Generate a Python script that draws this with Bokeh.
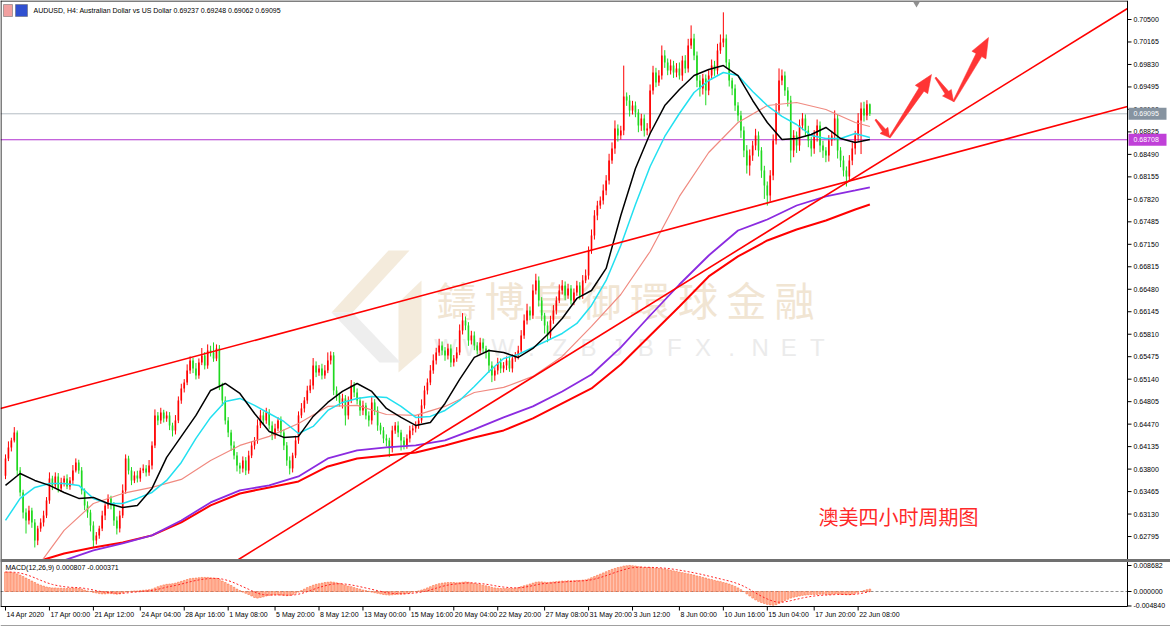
import numpy as np
from bokeh.plotting import figure
from bokeh.models import Range1d
from bokeh.embed import file_html
from bokeh.resources import INLINE
from bokeh.core.properties import value

# ---------------- data (prices in points = 1e-5) ----------------
first_open_pts = 63700
closes_pts = [
    63959, 64123, 64227, 64346, 63780, 63452, 63154, 63035, 63184, 63005,
    62737, 62916, 63005, 63110, 63333, 63661, 63557, 63691, 63512, 63601,
    63661, 63542, 63631, 63780, 63899, 63780, 63482, 63259, 63154, 62961,
    62737, 62812, 62916, 63110, 63259, 63363, 63259, 63035, 62916, 63110,
    63482, 63959, 63780, 63631, 63706, 63661, 63780, 63810, 63750, 63855,
    64153, 64600, 64525, 64644, 64555, 64600, 64451, 64376, 64525, 64823,
    65002, 65091, 65270, 65419, 65300, 65196, 65389, 65494, 65345, 65568,
    65538, 65449, 65598, 65047, 64823, 64525, 64346, 64153, 64004, 63855,
    63810, 63929, 63780, 64004, 64153, 64227, 64451, 64600, 64525, 64644,
    64451, 64302, 64406, 64525, 64346, 64153, 63929, 63810, 64004, 64227,
    64600, 64704, 64823, 64972, 65047, 65345, 65240, 65300, 65196, 65270,
    65419, 65494, 64972, 64898, 64793, 64853, 64600, 64823, 65047, 64942,
    64823, 64674, 64749, 64600, 64525, 64793, 64674, 64451, 64376, 64257,
    64227, 64108, 64376, 64451, 64346, 64227, 64153, 64257, 64376, 64406,
    64451, 64525, 64749, 64972, 65091, 65270, 65419, 65538, 65642, 65568,
    65494, 65598, 65389, 65449, 65538, 65866, 66015, 65940, 65717, 65791,
    65642, 65568, 65687, 65598, 65538, 65345, 65196, 65270, 65389, 65300,
    65345, 65419, 65300, 65449, 65494, 65568, 65791, 66015, 66164, 66089,
    66462, 66611, 66313, 66089, 65940, 65791, 66015, 66164, 66313, 66462,
    66536, 66387, 66492, 66313, 66432, 66536, 66387, 66611, 66685, 67058,
    67281, 67579, 67728, 67803, 67952, 68101, 68399, 68578, 68876, 68771,
    68846, 69353, 69293, 69144, 69218, 69114, 68920, 69025, 68846, 68876,
    69442, 69710, 69561, 69665, 69963, 69859, 69740, 69814, 69710, 69770,
    69665, 69889, 69770, 70112, 70217, 69963, 69591, 69472, 69621, 69442,
    69665, 69814, 69740, 70038, 70157, 70217, 69859, 69591, 69472, 69218,
    69069, 68846, 68548, 68324, 68473, 68622, 68771, 68548, 68250, 68026,
    67877, 68175, 68697, 69144, 69591, 69665, 69442, 69293, 68548, 68771,
    68622, 68920, 69025, 68846, 68697, 68578, 68771, 68920, 68622, 68548,
    68473, 68697, 68771, 69025, 68548, 68399, 68250, 68161, 68399, 68578,
    68771, 68995, 69174, 69069, 69237, 69095,
]
upper_wick_pts = [
    60, 90, 40, 80, 30, 50, 40, 60, 70, 40,
    50, 40, 60, 70, 50, 90, 40, 60, 50, 70,
    40, 60, 50, 80, 60, 40, 50, 30, 60, 40,
    60, 50, 40, 70, 50, 60, 40, 50, 60, 70,
    90, 60, 40, 50, 60, 70, 40, 60, 50, 80,
    60, 90, 50, 70, 40, 60, 50, 40, 80, 60,
    70, 50, 90, 60, 40, 80, 60, 110, 50, 90,
    70, 150, 60, 50, 40, 60, 50, 40, 60, 50,
    40, 60, 50, 70, 60, 50, 90, 80, 60, 70,
    50, 60, 70, 50, 60, 40, 50, 60, 40, 70,
    60, 80, 50, 70, 90, 110, 60, 50, 70, 80,
    120, 60, 50, 60, 40, 70, 50, 60, 80, 50,
    60, 50, 70, 40, 60, 90, 50, 60, 40, 50,
    60, 40, 70, 50, 60, 40, 50, 60, 70, 50,
    60, 80, 90, 70, 60, 80, 90, 70, 100, 60,
    50, 70, 60, 50, 80, 90, 110, 60, 50, 70,
    60, 50, 70, 60, 40, 50, 60, 50, 70, 60,
    50, 60, 70, 60, 50, 70, 80, 90, 100, 60,
    90, 100, 60, 50, 40, 60, 70, 80, 60, 90,
    80, 60, 70, 50, 60, 70, 50, 80, 90, 60,
    90, 80, 70, 60, 90, 80, 100, 90, 120, 60,
    70, 460, 60, 80, 70, 60, 50, 70, 60, 80,
    90, 100, 70, 80, 150, 80, 60, 90, 70, 80,
    90, 70, 80, 100, 195, 70, 60, 80, 70, 60,
    80, 90, 70, 100, 120, 390, 60, 50, 40, 60,
    50, 70, 60, 80, 90, 70, 100, 60, 50, 70,
    60, 80, 90, 110, 180, 90, 60, 50, 70, 80,
    60, 90, 80, 60, 70, 50, 80, 90, 60, 70,
    50, 80, 70, 120, 60, 50, 70, 60, 80, 90,
    70, 110, 90, 100, 60, 11,
]
lower_wick_pts = [
    50, 40, 60, 30, 70, 60, 90, 195, 60, 80,
    105, 70, 50, 60, 40, 50, 70, 40, 60, 50,
    60, 40, 50, 60, 30, 50, 60, 70, 80, 90,
    105, 60, 50, 40, 70, 50, 60, 80, 90, 60,
    40, 50, 60, 70, 40, 60, 50, 40, 60, 50,
    60, 40, 70, 50, 60, 50, 70, 90, 60, 40,
    50, 60, 40, 50, 70, 60, 50, 40, 60, 50,
    60, 50, 40, 70, 80, 60, 70, 80, 60, 90,
    80, 60, 70, 50, 40, 60, 50, 40, 60, 50,
    60, 70, 50, 40, 60, 70, 80, 90, 60, 40,
    50, 40, 60, 50, 40, 60, 70, 50, 60, 50,
    40, 60, 70, 80, 60, 90, 150, 60, 40, 70,
    60, 80, 70, 60, 90, 60, 70, 80, 60, 70,
    90, 130, 60, 50, 70, 150, 60, 50, 60, 70,
    60, 50, 40, 50, 60, 40, 50, 60, 50, 70,
    80, 60, 70, 60, 50, 40, 60, 70, 80, 60,
    70, 60, 50, 60, 90, 110, 100, 80, 60, 70,
    60, 70, 50, 60, 50, 60, 40, 50, 60, 70,
    50, 60, 90, 80, 120, 100, 60, 50, 60, 40,
    60, 70, 50, 60, 70, 50, 60, 50, 40, 60,
    50, 60, 70, 50, 60, 70, 60, 50, 80, 90,
    60, 70, 80, 90, 60, 70, 100, 80, 90, 70,
    80, 60, 70, 50, 60, 80, 70, 60, 80, 70,
    60, 80, 70, 60, 50, 70, 100, 120, 90, 220,
    70, 60, 80, 60, 50, 70, 80, 90, 100, 80,
    90, 110, 100, 120, 150, 80, 70, 90, 110, 200,
    150, 90, 70, 60, 50, 70, 80, 90, 180, 100,
    110, 80, 70, 90, 100, 120, 80, 90, 100, 110,
    100, 90, 80, 70, 120, 100, 90, 150, 80, 70,
    90, 80, 500, 90, 70, 33,
]

# moving averages (bar index, points)
ma_fast_idx = list(range(0, 300, 5))
ma_black_pts = [63557, 63735, 63631, 63557, 63452, 63363, 63378, 63288, 63229, 63259,
                63512, 63974, 64287, 64600, 64972, 65076, 64927, 64629, 64361, 64272,
                64287, 64585, 64793, 64957, 65076, 64957, 64704, 64570, 64451, 64495,
                64778, 65136, 65464, 65568, 65538, 65464, 65598, 65806, 66045, 66343,
                66462, 66790, 67579, 68280, 68801, 69218, 69457, 69665, 69755, 69814,
                69665, 69293, 68965, 68712, 68727, 68786, 68891, 68727, 68667, 68712]
ma_cyan_pts = [63035, 63363, 63527, 63586, 63586, 63557, 63363, 63288, 63288, 63363,
               63452, 63631, 63899, 64257, 64570, 64808, 64853, 64749, 64629, 64510,
               64331, 64436, 64674, 64793, 64853, 64883, 64868, 64734, 64570, 64585,
               64674, 64823, 65032, 65255, 65449, 65508, 65613, 65717, 65821, 65970,
               66239, 66611, 67133, 67743, 68310, 68757, 69099, 69412, 69591, 69710,
               69665, 69427, 69218, 69055, 68935, 68771, 68727, 68727, 68801, 68742]
ma_salmon_idx = [13, 20, 30, 40, 50, 60, 70, 80, 90, 100, 110, 120, 130, 140, 150,
                 160, 170, 180, 190, 200, 210, 220, 230, 240, 250, 260, 270, 280, 290, 295]
ma_salmon_pts = [62469, 62886, 63288, 63437, 63527, 63646, 63929, 64153, 64287, 64480,
                 64734, 64749, 64614, 64600, 64734, 64942, 65017, 65181, 65479, 65926,
                 66402, 67043, 67863, 68518, 68965, 69218, 69263, 69159, 68965, 68906]
ma_purple_idx = [20, 30, 40, 50, 60, 70, 80, 90, 100, 110, 120, 130, 140, 150,
                 160, 170, 180, 190, 200, 210, 220, 230, 240, 250, 260, 270, 280, 290, 295]
ma_purple_pts = [62439, 62588, 62692, 62812, 63035, 63303, 63482, 63557, 63691, 63959,
                 64078, 64123, 64153, 64227, 64391, 64570, 64734, 64957, 65210, 65613,
                 66089, 66551, 66983, 67356, 67520, 67728, 67863, 67952, 67997]
ma_red_idx = [12, 20, 30, 40, 50, 60, 70, 80, 90, 100, 110, 120, 130, 140, 150,
              160, 170, 180, 190, 200, 210, 220, 230, 240, 250, 260, 270, 280, 290, 295]
ma_red_pts = [62439, 62543, 62633, 62707, 62812, 63005, 63259, 63437, 63527, 63616,
              63840, 63959, 64004, 64048, 64153, 64272, 64376, 64555, 64778, 65002,
              65359, 65791, 66224, 66671, 66969, 67207, 67371, 67505, 67669, 67743]

# MACD main line, per bar (1e-6)
macd_main_u = [
    6500, 6500, 6400, 6200, 5900, 5500,
    5000, 4500, 4000, 3500, 3000, 2500, 2100, 1800, 1500,
    1300, 1200, 1200, 1100, 1100, 1000, 1000, 1100, 1200, 1200, 1000, 800, 500, 200, 0, -300,
    -500, -700, -800, -800, -700, -700, -800, -900, -800, -500, -200, 0,
    100, 200, 200, 300, 400, 500, 600, 800, 1200, 1600,
    1900, 2200, 2400, 2500, 2600, 2800, 3100, 3400, 3700, 4000, 4300, 4400, 4500, 4600, 4700, 4700, 4700, 4600,
    4500, 4400, 4000, 3500, 3000, 2500, 2000, 1400, 800, 300, -200, -600,
    -1000, -1500, -2000, -2200, -2000, -1800, -1500, -1300, -1200, -1100, -1100, -1200, -1300, -1400, -1300, -1000, -600, -200,
    300, 800, 1300, 1700, 2100, 2400, 2600, 2800, 3000, 3100, 3200, 3100,
    2900, 2700, 2400, 2100, 1800, 1600, 1300, 1000, 800, 500, 300, 100,
    -200, -400, -600, -800, -1000, -1100, -1200, -1100, -1000, -900, -900, -800,
    -600, -400, -200, 0, 200, 500, 800, 1200, 1600,
    2000, 2300, 2600, 2800, 2900, 3000, 3000, 3000, 2900, 3000, 3100, 3200, 3100, 2900, 2700,
    2500, 2300, 2100, 1900, 1700, 1400, 1200, 1100, 1000, 1000, 1000, 1000, 1000, 1100,
    1300, 1600, 1900, 2200, 2500, 2800, 3100, 3200, 3200, 3100, 3000, 3100, 3200, 3300, 3400, 3500, 3500, 3600, 3600, 3600, 3700, 3700, 3800, 3900,
    4200, 4600, 5000, 5400, 5800, 6200, 6600, 7000, 7400, 7700, 8000, 8200,
    8500, 8600, 8700, 8600, 8500, 8300, 8200, 8000, 8000, 8000,
    7900, 7800, 7700, 7600, 7500, 7300, 7100, 6900, 6700, 6500, 6300, 6100, 5900, 5700, 5500,
    5200, 5000, 4700, 4500, 4200, 4000, 3700, 3500, 3300, 3000, 2800, 2500, 2100, 1700, 1200,
    600, 0, -800, -1500, -2200, -2800, -3300, -3700, -4000, -4300, -4500, -4600, -4400, -4000, -3500,
    -3000, -2600, -2200, -1900, -1700, -1500, -1300, -1200, -1100, -1000, -1000, -1000, -900, -900, -1000,
    -1000, -900, -800, -800, -900, -1000, -1100, -1100, -900, -600, -300, 0, 300, 600, 807,
]

price_tick_labels = ["0.70500", "0.70165", "0.69830", "0.69495", "0.69160", "0.68825",
                     "0.68490", "0.68155", "0.67820", "0.67485", "0.67150", "0.66815",
                     "0.66480", "0.66145", "0.65810", "0.65475", "0.65140", "0.64805",
                     "0.64470", "0.64135", "0.63800", "0.63465", "0.63130", "0.62795"]
macd_tick_values = [0.008682, 0.0, -0.004840]
macd_tick_labels = ["0.008682", "0.000000", "-0.004840"]
date_tick_idx = [0, 15, 30, 46, 61, 76, 92, 107, 122, 138, 153, 168, 184, 199, 214,
                 230, 245, 260, 276, 291]
date_tick_labels = ["14 Apr 2020", "17 Apr 00:00", "21 Apr 12:00", "24 Apr 04:00",
                    "28 Apr 16:00", "1 May 08:00", "5 May 20:00", "8 May 12:00",
                    "13 May 00:00", "15 May 16:00", "20 May 04:00", "22 May 20:00",
                    "27 May 08:00", "31 May 20:00", "3 Jun 12:00", "8 Jun 00:00",
                    "10 Jun 16:00", "15 Jun 04:00", "17 Jun 20:00", "22 Jun 08:00"]
bid_price = 0.69095
level_price = 0.68708
header = "AUDUSD, H4:  Australian Dollar vs US Dollar  0.69237 0.69248 0.69062 0.69095"
macd_header = "MACD(12,26,9) 0.000807 -0.000371"
title_cn = "澳美四小时周期图"
wm_cn = "鑄博皇御環球金融"
wm_en = "WWW.ZBJBFX.NET"

# ---------------- layout calibration (reference pixel frame) ----------------
X0, DX = 5.0, 2.93            # bar 0 x position, bar spacing
PY0, PREF, PSTEP, PPX = 19.0, 0.705, 0.00335, 22.48
MZ, MPX = 591.0, 0.000334      # macd zero line, macd per pixel
W, H = 1170, 627
AX = 1127                      # price axis x
PB = 559                       # bottom of price panel
MB = 606                       # bottom of macd panel


def ix(X):
    return (X - X0) / DX


def py(Y):
    return PREF - (Y - PY0) * PSTEP / PPX


def yp(P):
    return PY0 + (PREF - P) * PPX / PSTEP


def my(Y):
    return (MZ - Y) * MPX


FONT = value("Liberation Sans")

p = figure(width=W, height=H, x_range=Range1d(ix(0), ix(W)), y_range=Range1d(py(H), py(0)),
           output_backend="svg", toolbar_location=None, x_axis_location=None, y_axis_location=None,
           min_border=0)
p.extra_y_ranges = {"macd": Range1d(my(H), my(0))}
p.grid.visible = False
p.outline_line_color = None
p.background_fill_color = "white"


def seg(pts_list, **kw):
    p.segment(x0=[ix(a[0]) for a, b in pts_list], y0=[py(a[1]) for a, b in pts_list],
              x1=[ix(b[0]) for a, b in pts_list], y1=[py(b[1]) for a, b in pts_list], **kw)


# ---------------- watermark ----------------
logo_beige = [[(388, 250), (409, 250), (352, 312), (331, 312)],
              [(398, 302), (421, 280), (421, 352), (398, 372)]]
logo_grey = [[(331, 312), (352, 312), (400, 362), (379, 362)]]
for poly in logo_beige:
    p.patch([ix(a) for a, b in poly], [py(b) for a, b in poly], fill_color="#f4ebdc", line_color=None)
for poly in logo_grey:
    p.patch([ix(a) for a, b in poly], [py(b) for a, b in poly], fill_color="#eeeeee", line_color=None)
for k, ch in enumerate(wm_cn):
    p.text(x=[ix(456 + 48.3 * k)], y=[py(298)], text=[ch], text_align="center", text_baseline="middle",
           text_font=value("Noto Sans CJK TC"), text_font_size="40px", text_color="#f1e5d3")
for k, ch in enumerate(wm_en):
    p.text(x=[ix(445 + 28.6 * k)], y=[py(347)], text=[ch], text_align="center", text_baseline="middle",
           text_font=FONT, text_font_size="24px", text_color="#ebebeb")

# ---------------- price candles ----------------
N = len(closes_pts)
idx = np.arange(N)
close = np.array(closes_pts) / 1e5
open_ = np.concatenate([[first_open_pts / 1e5], close[:-1]])
high = np.maximum(open_, close) + np.array(upper_wick_pts) / 1e5
low = np.minimum(open_, close) - np.array(lower_wick_pts) / 1e5
col = np.where(close >= open_, "#ff0000", "#1fd81f")
body_top = np.maximum(open_, close)
body_bot = np.minimum(open_, close)
body_bot = np.where(body_top - body_bot < 0.00003, body_top - 0.00003, body_bot)

# horizontal levels
p.segment(x0=[ix(0)], x1=[ix(AX)], y0=[bid_price], y1=[bid_price], line_color="#b4bcc4", line_width=1)
p.segment(x0=[ix(0)], x1=[ix(AX)], y0=[level_price], y1=[level_price], line_color="#b030d0", line_width=1)

p.segment(x0=idx, x1=idx, y0=low, y1=high, line_color=col, line_width=1)
p.vbar(x=idx, top=body_top, bottom=body_bot, width=0.55, fill_color=col, line_color=None)

# moving averages
p.line(np.array(ma_red_idx), np.array(ma_red_pts) / 1e5, line_color="#ff0000", line_width=2)
p.line(np.array(ma_purple_idx), np.array(ma_purple_pts) / 1e5, line_color="#8b2be0", line_width=1.8)
p.line(np.array(ma_salmon_idx), np.array(ma_salmon_pts) / 1e5, line_color="#f08a80", line_width=1.2)
p.line(np.array(ma_fast_idx), np.array(ma_cyan_pts) / 1e5, line_color="#22e0f0", line_width=1.5)
p.line(np.array(ma_fast_idx), np.array(ma_black_pts) / 1e5, line_color="#000000", line_width=1.5)

# trend lines
seg([((0, 408), (AX, 106)), ((238, PB), (AX, 8))], line_color="#ff0000", line_width=1.6)


# hand-drawn arrows (reference pixel geometry)
def arrow_poly(a, b, head_len, head_w, w0, w1):
    ax_, ay_ = a
    bx_, by_ = b
    L = ((bx_ - ax_) ** 2 + (by_ - ay_) ** 2) ** 0.5
    ux, uy = (bx_ - ax_) / L, (by_ - ay_) / L
    nx, ny = -uy, ux
    hx, hy = bx_ - ux * head_len, by_ - uy * head_len
    pts = [(ax_ + nx * w0 / 2, ay_ + ny * w0 / 2), (hx + nx * w1 / 2, hy + ny * w1 / 2),
           (hx + nx * head_w / 2, hy + ny * head_w / 2), (bx_, by_),
           (hx - nx * head_w / 2, hy - ny * head_w / 2), (hx - nx * w1 / 2, hy - ny * w1 / 2),
           (ax_ - nx * w0 / 2, ay_ - ny * w0 / 2)]
    return [ix(q[0]) for q in pts], [py(q[1]) for q in pts]


arrows = [((875, 119), (889, 137), 9, 10, 1.5, 4),
          ((889, 137), (931, 74), 18, 15, 1.5, 6),
          ((935, 77), (953, 101), 11, 11, 1.5, 4.5),
          ((953, 101), (988, 37), 20, 16, 1.5, 6.5)]
for a, b, hl, hw, w0, w1 in arrows:
    xs, ys = arrow_poly(a, b, hl, hw, w0, w1)
    p.patch(xs, ys, fill_color="#ff3535", line_color="#ff3535", line_width=0.5)

# ---------------- MACD ----------------
mm = np.array(macd_main_u) / 1e6
sig = np.zeros_like(mm)
sig[0] = mm[0]
for i in range(1, len(mm)):
    sig[i] = sig[i - 1] + 2.0 / 10.0 * (mm[i] - sig[i - 1])
p.segment(x0=[ix(0)], x1=[ix(AX)], y0=[0], y1=[0], line_color="#909090", line_dash="3 2",
          line_width=1, y_range_name="macd")
p.vbar(x=idx, top=np.maximum(mm, 0), bottom=np.minimum(mm, 0), width=0.6, fill_color="#ffbfa6",
       line_color="#ff5a28", line_width=0.5, y_range_name="macd")
p.line(idx, sig, line_color="#ff2020", line_dash="2 2", line_width=1, y_range_name="macd")

# ---------------- frames, axes ----------------
seg([((0.5, 0), (0.5, MB)), ((0, 0.5), (AX, 0.5)), ((0, MB), (AX, MB)), ((AX, 0), (AX, MB))],
    line_color="black", line_width=1)
seg([((0, PB + 1), (W, PB + 1))], line_color="#707070", line_width=3)
seg([((0, 625), (W, 625))], line_color="#a0a0a0", line_width=1)

# price axis
price_ticks = [float(s) for s in price_tick_labels]
p.segment(x0=[ix(AX)] * len(price_ticks), x1=[ix(AX + 4)] * len(price_ticks),
          y0=price_ticks, y1=price_ticks, line_color="black", line_width=1)
p.text(x=[ix(AX + 6)] * len(price_ticks), y=price_ticks, text=price_tick_labels,
       text_baseline="middle", text_align="left", text_font=FONT, text_font_size="7px", text_color="black")
p.segment(x0=[ix(AX)] * 3, x1=[ix(AX + 4)] * 3, y0=macd_tick_values, y1=macd_tick_values,
          line_color="black", line_width=1, y_range_name="macd")
p.text(x=[ix(AX + 6)] * 3, y=macd_tick_values, text=macd_tick_labels, y_range_name="macd",
       text_baseline="middle", text_align="left", text_font=FONT, text_font_size="7px", text_color="black")

# price boxes on the axis
for price, lab, colr in [(bid_price, "0.69095", "#8693a0"), (level_price, "0.68708", "#c040d8")]:
    Yc = yp(price)
    p.quad(left=[ix(AX + 1)], right=[ix(1166)], top=[py(Yc - 6)], bottom=[py(Yc + 6)],
           fill_color=colr, line_color=None)
    p.text(x=[ix(AX + 6)], y=[price], text=[lab], text_baseline="middle", text_align="left",
           text_font=FONT, text_font_size="7px", text_color="white")

# date axis
p.segment(x0=date_tick_idx, x1=date_tick_idx, y0=[py(MB)] * len(date_tick_idx),
          y1=[py(MB + 4)] * len(date_tick_idx), line_color="black", line_width=1)
p.text(x=date_tick_idx, y=[py(614)] * len(date_tick_idx), text=date_tick_labels, x_offset=1,
       text_baseline="middle", text_align="left", text_font=FONT, text_font_size="7px", text_color="black")

# ---------------- texts ----------------
p.text(x=[ix(5)], y=[my(567)], text=[macd_header], text_baseline="middle", y_range_name="macd",
       text_font=FONT, text_font_size="7px", text_color="black")
p.text(x=[ix(33)], y=[py(10)], text=[header], text_baseline="middle",
       text_font=FONT, text_font_size="7px", text_color="black")
p.quad(left=[ix(3), ix(15)], right=[ix(12), ix(27)], top=[py(4), py(4)], bottom=[py(16), py(16)],
       fill_color=["#f2a0a0", "#3050d0"], line_color="#606060", line_width=0.5)
p.scatter(x=[ix(916)], y=[py(3)], marker="inverted_triangle", size=7, fill_color="#909090", line_color=None)
p.text(x=[ix(818)], y=[py(516)], text=[title_cn], text_align="left", text_baseline="middle",
       text_font=value("Noto Sans CJK SC"), text_font_size="20px", text_color="#ff2a2a")

open("out.html", "w").write(file_html(p, INLINE))
